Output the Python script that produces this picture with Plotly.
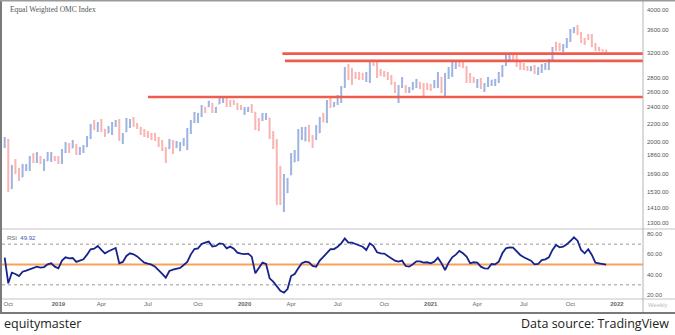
import pandas as pd
import plotly.graph_objects as go

# ---------------- data ----------------
first_week = "2018-09-24"
n_weeks = 169
dates = pd.date_range(first_week, periods=n_weeks, freq="7D")

opens = [1950, 2020, 1570, 1790, 1710, 1660, 1730, 1740, 1860, 1800,
         1840, 1740, 1810, 1820, 1845, 1840, 1790, 1900, 1970, 1935,
         1965, 1875, 1900, 1950, 2040, 2220, 2120, 2240, 2130, 2095,
         2090, 2180, 2240, 1990, 2110, 2160, 2255, 2195, 2150, 2120,
         2100, 2080, 2085, 2030, 1990, 1920, 1930, 2005, 1940, 1910,
         1970, 1920, 2120, 2220, 2230, 2300, 2395, 2410, 2440, 2340,
         2440, 2470, 2520, 2470, 2480, 2440, 2410, 2320, 2350, 2420,
         2330, 2240, 2240, 2260, 2260, 2070, 1990, 1740, 1395, 1530,
         1680, 1800, 1810, 2030, 2010, 2170, 2060, 2030, 2100, 2320,
         2260, 2510, 2410, 2440, 2470, 2670, 2990, 2900, 2870, 2870,
         2860, 2760, 2760, 3070, 3020, 2900, 2880, 2860, 2820, 2720,
         2560, 2670, 2680, 2600, 2640, 2670, 2730, 2700, 2710, 2700,
         2660, 2700, 2800, 2560, 2800, 2850, 2950, 3050, 3040, 2960,
         2850, 2800, 2670, 2780, 2610, 2690, 2700, 2700, 2740, 2830,
         2990, 3070, 3160, 3170, 3030, 3010, 2960, 2910, 2970, 2860,
         2890, 2960, 2930, 3070, 3370, 3340, 3230, 3300, 3400, 3560,
         3680, 3540, 3430, 3510, 3500, 3340, 3280, 3240, 3235]

highs = [2048, 2027, 1767, 1823, 1739, 1776, 1776, 1852, 1882, 1892,
         1852, 1823, 1892, 1892, 1852, 1852, 1922, 1995, 1984, 2016,
         1974, 1943, 1963, 2059, 2193, 2240, 2216, 2252, 2136, 2170,
         2216, 2240, 2252, 2092, 2263, 2252, 2275, 2205, 2159, 2136,
         2114, 2092, 2092, 2048, 2016, 1943, 2027, 2016, 2006, 1995,
         2038, 2148, 2240, 2337, 2325, 2425, 2400, 2476, 2450, 2400,
         2542, 2528, 2528, 2490, 2490, 2450, 2425, 2400, 2400, 2438,
         2337, 2263, 2325, 2325, 2263, 2114, 2027, 1758, 1684, 1649,
         1882, 1912, 2136, 2159, 2159, 2182, 2070, 2182, 2275, 2325,
         2490, 2528, 2463, 2556, 2681, 2963, 3011, 2948, 2886, 2886,
         2871, 2886, 3075, 3075, 3043, 2933, 2901, 2886, 2841, 2738,
         2695, 2811, 2695, 2667, 2738, 2782, 2738, 2724, 2724, 2710,
         2767, 2886, 2811, 2871, 2963, 3059, 3075, 3059, 3059, 2979,
         2871, 2811, 2782, 2796, 2724, 2811, 2767, 2782, 2886, 2995,
         3157, 3173, 3173, 3190, 3043, 3027, 2979, 2979, 2995, 2963,
         3011, 3027, 3091, 3293, 3381, 3363, 3346, 3453, 3621, 3660,
         3698, 3564, 3453, 3527, 3527, 3363, 3293, 3250, 3250]

lows = [1932, 1532, 1556, 1685, 1623, 1658, 1712, 1712, 1786, 1786,
        1776, 1712, 1805, 1795, 1805, 1776, 1776, 1882, 1882, 1932,
        1862, 1862, 1882, 1943, 2027, 2125, 2103, 2103, 2048, 2092,
        2070, 2159, 2006, 1974, 2103, 2148, 2159, 2136, 2070, 2048,
        2038, 2016, 2006, 1943, 1902, 1786, 1922, 1872, 1932, 1902,
        1953, 1912, 2081, 2205, 2205, 2275, 2325, 2400, 2325, 2325,
        2438, 2450, 2400, 2400, 2425, 2362, 2362, 2300, 2337, 2325,
        2125, 2114, 2228, 2240, 2027, 1922, 1431, 1431, 1379, 1524,
        1676, 1795, 1805, 2016, 2006, 1995, 1932, 2016, 2092, 2210,
        2205, 2387, 2400, 2425, 2450, 2652, 2767, 2695, 2782, 2767,
        2767, 2738, 2724, 2979, 2796, 2826, 2811, 2767, 2695, 2583,
        2450, 2652, 2583, 2583, 2625, 2652, 2639, 2516, 2625, 2612,
        2652, 2652, 2583, 2530, 2782, 2811, 2933, 2963, 2948, 2724,
        2724, 2724, 2652, 2639, 2598, 2667, 2681, 2681, 2724, 2811,
        2979, 3059, 3059, 2963, 2917, 2917, 2901, 2901, 2856, 2841,
        2871, 2917, 2917, 3059, 3224, 3224, 3207, 3275, 3381, 3545,
        3508, 3363, 3328, 3417, 3293, 3224, 3224, 3215, 3200]

closes = [2020, 1560, 1740, 1710, 1650, 1750, 1765, 1830, 1800, 1870,
          1790, 1800, 1870, 1880, 1815, 1790, 1900, 1975, 1900, 2000,
          1880, 1930, 1950, 2040, 2170, 2150, 2200, 2120, 2070, 2150,
          2200, 2230, 2020, 2070, 2240, 2235, 2180, 2150, 2090, 2060,
          2050, 2030, 2020, 1960, 1920, 1800, 2010, 1890, 1990, 1980,
          2025, 2130, 2225, 2320, 2310, 2410, 2340, 2470, 2340, 2390,
          2530, 2515, 2420, 2420, 2440, 2380, 2375, 2380, 2390, 2340,
          2150, 2180, 2310, 2300, 2040, 1940, 1480, 1520, 1480, 1600,
          1850, 1890, 2100, 2140, 2150, 2100, 1980, 2160, 2260, 2280,
          2470, 2420, 2455, 2540, 2660, 2940, 2800, 2730, 2800, 2790,
          2780, 2860, 3050, 3000, 2830, 2850, 2830, 2790, 2720, 2600,
          2660, 2790, 2600, 2650, 2720, 2770, 2660, 2560, 2640, 2630,
          2750, 2860, 2620, 2700, 2940, 3040, 3060, 2980, 2960, 2750,
          2740, 2740, 2760, 2660, 2700, 2790, 2760, 2770, 2870, 2980,
          3140, 3160, 3080, 2990, 2940, 2930, 2920, 2950, 2870, 2940,
          2990, 3010, 3070, 3270, 3300, 3240, 3320, 3430, 3600, 3640,
          3530, 3390, 3350, 3440, 3310, 3240, 3235, 3230, 3220]

rsi = [56.7, 31.5, 41.9, 40.7, 38.7, 42.9, 43.9, 45.3, 47.2, 47.9,
       46.9, 47.5, 50.2, 51.2, 47.9, 46.3, 53.8, 57.1, 56.1, 56.4,
       52.5, 54.1, 55.1, 59.7, 64.9, 65.6, 68.2, 64.3, 61.0, 63.0,
       64.3, 66.2, 51.2, 52.5, 58.4, 61.0, 60.0, 58.0, 54.8, 51.8,
       50.8, 49.9, 47.9, 44.6, 40.7, 37.0, 43.6, 44.9, 45.9, 46.6,
       49.5, 52.5, 60.0, 65.2, 65.9, 70.2, 71.5, 72.5, 67.6, 68.2,
       70.8, 70.2, 65.9, 67.6, 65.6, 61.6, 60.7, 60.3, 60.7, 57.7,
       41.3, 47.2, 51.8, 50.5, 36.4, 33.1, 28.2, 24.2, 22.3, 25.9,
       38.7, 40.7, 46.3, 51.2, 52.8, 52.2, 48.6, 47.9, 53.8, 57.7,
       61.6, 65.0, 65.2, 67.5, 70.8, 75.7, 71.5, 71.5, 70.2, 69.2,
       67.5, 64.3, 70.8, 68.2, 62.0, 61.0, 60.7, 58.4, 55.7, 53.8,
       52.8, 53.8, 48.5, 47.9, 50.2, 53.1, 53.1, 51.8, 52.2, 51.2,
       52.8, 56.7, 51.2, 44.6, 51.8, 57.1, 59.7, 63.3, 61.0, 57.7,
       51.2, 52.2, 51.8, 47.9, 46.3, 45.9, 50.5, 50.2, 52.8, 61.0,
       65.9, 66.9, 66.6, 62.6, 59.4, 57.1, 55.1, 53.8, 50.2, 50.5,
       54.4, 55.1, 57.1, 64.3, 69.2, 66.9, 67.5, 69.8, 73.1, 76.7,
       73.4, 64.3, 61.0, 65.0, 59.4, 51.8, 51.2, 50.5, 49.92]

# support / resistance levels and the week each one is drawn from
levels = [2530, 3060, 3180]
level_starts = ["2019-07-01", "2020-03-25", "2020-03-20"]

month_ticks = ["2018-10-01", "2019-01-07", "2019-04-01", "2019-07-01",
               "2019-10-07", "2020-01-06", "2020-04-06", "2020-07-06",
               "2020-10-05", "2021-01-04", "2021-04-05", "2021-07-05",
               "2021-10-04", "2022-01-03"]
month_labels = ["Oct", "<b>2019</b>", "Apr", "Jul", "Oct", "<b>2020</b>",
                "Apr", "Jul", "Oct", "<b>2021</b>", "Apr", "Jul", "Oct",
                "<b>2022</b>"]

price_ticks = [1300, 1410, 1530, 1690, 1860, 2000, 2200, 2400, 2600,
               2800, 3200, 3600, 4000]
rsi_ticks = [20, 40, 60, 80]
rsi_bands = [30, 70]
rsi_mid = 50

# ---------------- geometry helpers (pixels -> paper) ----------------
W, H = 675, 335


def px(x):
    return x / W


def py(y):
    return 1 - y / H


x_view = ["2018-09-18 18:00", "2022-02-23"]
plot_l, plot_r = 2, 643
main_top, main_bot = 0, 229
rsi_top, rsi_bot = 229, 299

fig = go.Figure()

fig.add_trace(go.Ohlc(
    x=dates, open=opens, high=highs, low=lows, close=closes,
    increasing=dict(line=dict(color="rgba(95,130,205,0.6)", width=2)),
    decreasing=dict(line=dict(color="rgba(246,120,115,0.55)", width=2)),
    tickwidth=0.3, xaxis="x", yaxis="y", showlegend=False, hoverinfo="skip",
))

for lvl, start in zip(levels, level_starts):
    fig.add_trace(go.Scatter(
        x=[start, x_view[1]], y=[lvl, lvl], mode="lines",
        line=dict(color="#ef5b4d", width=2.6),
        xaxis="x", yaxis="y", showlegend=False, hoverinfo="skip",
    ))

fig.add_trace(go.Scatter(
    x=dates, y=rsi, mode="lines",
    line=dict(color="#17238c", width=1.8),
    xaxis="x2", yaxis="y2", showlegend=False, hoverinfo="skip",
))

tick_font = dict(family="Liberation Sans, Arial, sans-serif", size=6, color="#555555")

fig.update_layout(
    width=W, height=H,
    margin=dict(l=0, r=0, t=0, b=0),
    paper_bgcolor="white", plot_bgcolor="white",
    xaxis=dict(domain=[px(plot_l), px(plot_r)], anchor="y", type="date",
               range=x_view, showticklabels=False, showgrid=False,
               zeroline=False, rangeslider=dict(visible=False), ticks=""),
    yaxis=dict(domain=[py(main_bot), py(main_top)], anchor="x", type="log",
               range=[3.1006, 3.6253], side="right", tickvals=price_ticks,
               ticktext=[f"{v:.2f}" for v in price_ticks], tickfont=tick_font,
               showgrid=False, zeroline=False, ticks="", ticklabelstandoff=3),
    xaxis2=dict(domain=[px(plot_l), px(plot_r)], anchor="y2", type="date",
                range=x_view, matches="x", tickvals=month_ticks,
                ticktext=month_labels, tickfont=dict(tick_font, color="#666666"),
                showgrid=False, zeroline=False, ticks=""),
    yaxis2=dict(domain=[py(rsi_bot), py(rsi_top)], anchor="x2",
                range=[16.07, 84.92], side="right", tickvals=rsi_ticks,
                ticktext=[f"{v:.2f}" for v in rsi_ticks], tickfont=tick_font,
                showgrid=False, zeroline=False, ticks="", ticklabelstandoff=3),
    font=dict(family="Liberation Sans, Arial, sans-serif"),
)

shapes = []
# RSI guide lines
for b in rsi_bands:
    shapes.append(dict(type="line", xref="paper", yref="y2",
                       x0=px(plot_l), x1=px(plot_r), y0=b, y1=b,
                       line=dict(color="#9a9a9a", width=1, dash="dot"), layer="below"))
shapes.append(dict(type="line", xref="paper", yref="y2",
                   x0=px(plot_l), x1=px(plot_r), y0=rsi_mid, y1=rsi_mid,
                   line=dict(color="#f5a25c", width=2), layer="below"))
# pane separators and frame
for yy in (rsi_top, rsi_bot):
    shapes.append(dict(type="line", xref="paper", yref="paper",
                       x0=0, x1=1, y0=py(yy), y1=py(yy),
                       line=dict(color="#c4c4c4", width=1.2)))
shapes.append(dict(type="line", xref="paper", yref="paper",
                   x0=px(plot_r), x1=px(plot_r), y0=py(0), y1=py(313),
                   line=dict(color="#b4b4b4", width=1)))
shapes.append(dict(type="line", xref="paper", yref="paper",
                   x0=0, x1=1, y0=py(313), y1=py(313),
                   line=dict(color="#7a7a7a", width=2)))
shapes.append(dict(type="line", xref="paper", yref="paper",
                   x0=px(1), x1=px(1), y0=py(0), y1=py(313),
                   line=dict(color="#7a7a7a", width=2)))
shapes.append(dict(type="line", xref="paper", yref="paper",
                   x0=0, x1=1, y0=py(0.8), y1=py(0.8),
                   line=dict(color="#9a9a9a", width=1.5)))
fig.update_layout(shapes=shapes)

annotations = [
    dict(text="Equal Weighted OMC Index", x=px(8), y=py(10), xref="paper", yref="paper",
         xanchor="left", yanchor="middle", showarrow=False,
         font=dict(family="Liberation Serif, Times New Roman, serif", size=7.5, color="#555555")),
    dict(text=f"RSI  <span style='color:#3a56b0'>{rsi[-1]:.2f}</span>", x=px(5), y=py(237.5),
         xref="paper", yref="paper", xanchor="left", yanchor="middle", showarrow=False,
         font=dict(size=6, color="#666666")),
    dict(text="Weekly", x=px(658), y=py(305), xref="paper", yref="paper",
         xanchor="center", yanchor="middle", showarrow=False,
         font=dict(size=6, color="#bbbbbb")),
    dict(text="equitymaster", x=px(2), y=py(323), xref="paper", yref="paper",
         xanchor="left", yanchor="middle", showarrow=False,
         font=dict(family="Open Sans, sans-serif", size=12.5, color="#222222")),
    dict(text="Data source: TradingView", x=px(671), y=py(323), xref="paper", yref="paper",
         xanchor="right", yanchor="middle", showarrow=False,
         font=dict(family="Open Sans, sans-serif", size=12.5, color="#222222")),
]
fig.update_layout(annotations=annotations)

fig.write_html("out.html")
